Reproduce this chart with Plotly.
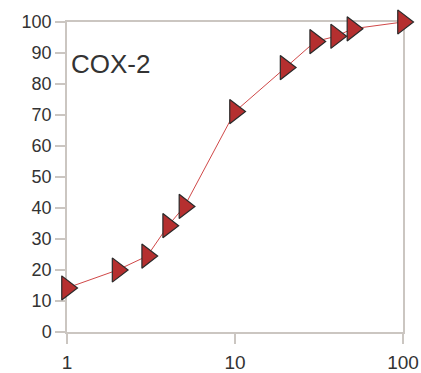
import plotly.graph_objects as go

# Concentration (log scale) and response (%)
conc = [1, 2, 3, 4, 5, 10, 20, 30, 40, 50, 100]
response = [14.2, 20.0, 24.5, 34.3, 40.5, 71.1, 85.3, 93.7, 95.4, 97.8, 100.0]

x_ticks = [1, 10, 100]
x_tick_text = ["1", "10", "100"]
y_ticks = list(range(0, 101, 10))

axis_color = "#cbc6c1"
text_color = "#333333"
font_family = "Liberation Sans, Arial, sans-serif"

fig = go.Figure()
fig.add_trace(go.Scatter(
    x=conc,
    y=response,
    mode="lines+markers",
    line=dict(color="#d04848", width=1),
    marker=dict(symbol="triangle-right", size=21, color="#b52f2f",
                line=dict(color="#2a2a2a", width=1.2)),
    cliponaxis=False,
    showlegend=False,
))

fig.add_annotation(
    text="COX-2", x=0.005, y=0.865, xref="paper", yref="paper",
    xanchor="left", yanchor="middle", showarrow=False,
    font=dict(size=26, color=text_color, family=font_family),
)

axis_common = dict(
    showgrid=False, zeroline=False, automargin=False,
    showline=True, linecolor=axis_color, linewidth=1.5, mirror=True,
    ticks="outside", ticklen=10, tickcolor=axis_color, tickwidth=1.5,
    layer="below traces",
)

fig.update_xaxes(
    type="log", range=[0, 2],
    tickvals=x_ticks, ticktext=x_tick_text,
    tickfont=dict(size=19, color=text_color, family=font_family),
    ticklabelstandoff=2,
    **axis_common,
)
fig.update_yaxes(
    range=[0, 100], tickvals=y_ticks,
    tickfont=dict(size=18, color=text_color, family=font_family),
    **axis_common,
)

fig.update_layout(
    width=421, height=373,
    margin=dict(l=67, r=18, t=22, b=41),
    paper_bgcolor="white", plot_bgcolor="white",
)

fig.write_html("out.html")
